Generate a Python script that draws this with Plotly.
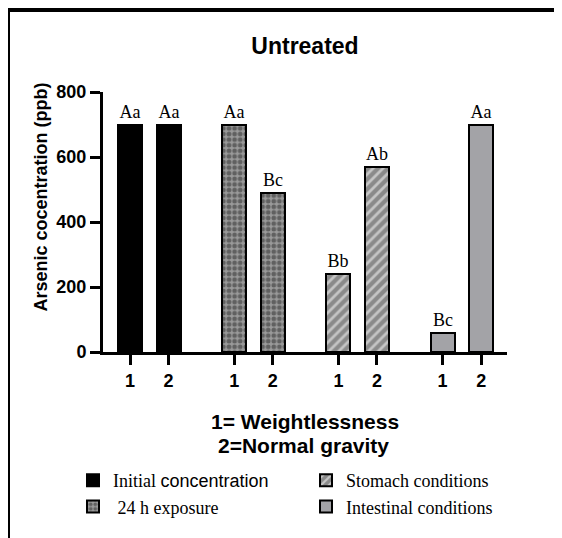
import plotly.graph_objects as go

# ---- data ----
conditions = ["Initial concentration", "24 h exposure", "Stomach conditions", "Intestinal conditions"]
gravity_labels = ["1", "2"]
initial_vals = [700, 700]
exposure_vals = [700, 490]
stomach_vals = [240, 570]
intestinal_vals = [57, 700]
initial_letters = ["Aa", "Aa"]
exposure_letters = ["Aa", "Bc"]
stomach_letters = ["Bb", "Ab"]
intestinal_letters = ["Bc", "Aa"]
y_ticks = [0, 200, 400, 600, 800]

values = [initial_vals, exposure_vals, stomach_vals, intestinal_vals]
letters = [initial_letters, exposure_letters, stomach_letters, intestinal_letters]

# ---- layout geometry (page has an 8px body margin) ----
OFF = 8
W, H = 562 - OFF, 538 - OFF
L, T = 103 - OFF, 92 - OFF
R = W - (507 - OFF)
B = H - (352 - OFF)
pw, ph = W - L - R, H - T - B
GROUP_STEP = 2.7

def px_x(p):
    return (p - OFF - L) / pw

def px_y(p):
    return (H - B - (p - OFF)) / ph

legend_names = [
    "Initial <span style='font-family:Liberation Sans, Arial'>concentration</span>",
    "\u00a024 h exposure",
    "Stomach conditions",
    "Intestinal conditions",
]

styles = [
    dict(color="black", line=dict(color="black", width=2)),
    dict(color="#9a9a9a", line=dict(color="black", width=2),
         pattern=dict(shape=".", fgcolor="#262626", bgcolor="#9a9a9a", size=5.6, solidity=0.55)),
    dict(color="#8a8a8a", line=dict(color="black", width=2),
         pattern=dict(shape="/", fgcolor="white", bgcolor="#8a8a8a", size=7, solidity=0.4)),
    dict(color="#a3a3a7", line=dict(color="black", width=2)),
]
legend_ids = ["legend", "legend", "legend2", "legend2"]

fig = go.Figure()
tickvals, ticktext = [], []
for gi, (name, vals, labs) in enumerate(zip(conditions, values, letters)):
    xs = [gi * GROUP_STEP + k for k in range(len(vals))]
    tickvals += xs
    ticktext += gravity_labels
    fig.add_trace(go.Bar(
        x=xs, y=vals, name=legend_names[gi], width=0.62,
        marker=styles[gi], text=labs, textposition="outside",
        textfont=dict(family="Liberation Serif, Times New Roman", size=18, color="black"),
        constraintext="none", cliponaxis=False, legend=legend_ids[gi],
        showlegend=True,
    ))

axis_font = dict(family="Liberation Sans, Arial", size=18, color="black", weight="bold")
legend_font = dict(family="Liberation Serif, Times New Roman", size=18, color="black")

fig.update_layout(
    width=W, height=H,
    margin=dict(l=L, r=R, t=T, b=B, pad=0),
    paper_bgcolor="white", plot_bgcolor="white",
    bargap=0,
    title=dict(text="<b>Untreated</b>", x=px_x(305), xref="paper", xanchor="center",
               y=1 - (46 - OFF) / H, yref="container", yanchor="middle",
               font=dict(family="Liberation Sans, Arial", size=23, color="black")),
    xaxis=dict(range=[-0.70, 3 * GROUP_STEP + 1 + 0.67], tickvals=tickvals, ticktext=ticktext,
               showgrid=False, zeroline=False, showline=True, linecolor="black", linewidth=3,
               ticks="outside", ticklen=10, tickwidth=3, tickcolor="black", tickfont=axis_font),
    yaxis=dict(range=[0, 800], tickvals=y_ticks,
               showgrid=False, zeroline=False, showline=True, linecolor="black", linewidth=3,
               ticks="outside", ticklen=10, tickwidth=3, tickcolor="black", tickfont=axis_font),
    legend=dict(x=px_x(73), y=px_y(462), xanchor="left", yanchor="top", xref="paper", yref="paper",
                bgcolor="rgba(0,0,0,0)", traceorder="normal", font=legend_font),
    legend2=dict(x=px_x(306), y=px_y(462), xanchor="left", yanchor="top", xref="paper", yref="paper",
                 bgcolor="rgba(0,0,0,0)", traceorder="normal", font=legend_font),
    annotations=[
        dict(text="<b>Arsenic cocentration (ppb)</b>", textangle=-90, showarrow=False,
             x=px_x(40), y=px_y(197.5), xref="paper", yref="paper", xanchor="center", yanchor="middle",
             font=dict(family="Liberation Sans, Arial", size=18, color="black")),
        dict(text="<b>1= Weightlessness</b>", showarrow=False,
             x=px_x(305), y=px_y(421.5), xref="paper", yref="paper", xanchor="center", yanchor="middle",
             font=dict(family="Liberation Sans, Arial", size=21, color="black")),
        dict(text="<b>2=Normal gravity</b>", showarrow=False,
             x=px_x(303), y=px_y(445), xref="paper", yref="paper", xanchor="center", yanchor="middle",
             font=dict(family="Liberation Sans, Arial", size=21, color="black")),
    ],
    shapes=[
        dict(type="line", xref="paper", yref="paper", x0=px_x(OFF), x1=px_x(562 + 2), y0=px_y(10), y1=px_y(10),
             line=dict(color="black", width=4)),
        dict(type="line", xref="paper", yref="paper", x0=px_x(OFF), x1=px_x(OFF), y0=px_y(OFF), y1=px_y(540),
             line=dict(color="black", width=4)),
    ],
)

fig.write_html("out.html")
